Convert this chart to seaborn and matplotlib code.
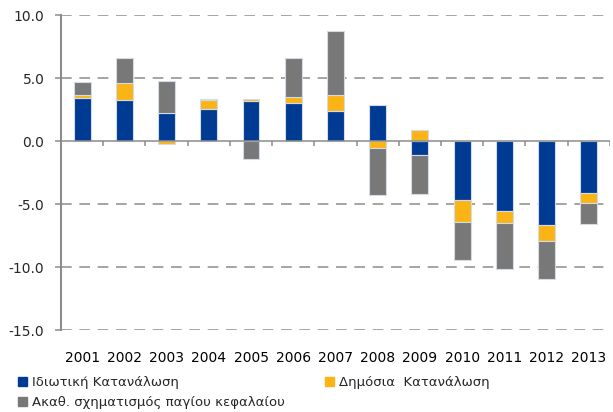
import numpy as np
import pandas as pd
import matplotlib
matplotlib.use('Agg')
import matplotlib.pyplot as plt
import seaborn as sns
from matplotlib.patches import Patch

years = ['2001', '2002', '2003', '2004', '2005', '2006', '2007',
         '2008', '2009', '2010', '2011', '2012', '2013']
private_cons = [3.43, 3.24, 2.22, 2.59, 3.16, 3.00, 2.37, 2.88, -1.08, -4.69, -5.56, -6.69, -4.14]
public_cons = [0.20, 1.35, -0.24, 0.65, 0.20, 0.53, 1.27, -0.52, 0.87, -1.74, -0.95, -1.25, -0.76]
gfcf = [1.06, 2.00, 2.58, 0.14, -1.39, 3.05, 5.14, -3.75, -3.14, -3.01, -3.64, -3.00, -1.69]

labels = ['Ιδιωτική Κατανάλωση', 'Δημόσια  Κατανάλωση', 'Ακαθ. σχηματισμός παγίου κεφαλαίου']
colors = ['#003B93', '#FBB416', '#787878']
series = [private_cons, public_cons, gfcf]

sns.set_style('white')
plt.rcParams['font.family'] = ['DejaVu Sans']

fig = plt.figure(figsize=(6.13, 4.12), dpi=100)
ax = fig.add_axes([0.0995, 0.199, 0.8955, 0.764])

# stack positives and negatives separately (Excel style)
pos_base = np.zeros(len(years))
neg_base = np.zeros(len(years))
for vals, col in zip(series, colors):
    vals = np.array(vals)
    bottom = np.where(vals >= 0, pos_base, neg_base)
    df = pd.DataFrame({'year': years, 'value': vals})
    sns.barplot(data=df, x='year', y='value', order=years, color=col,
                width=0.4, bottom=bottom, edgecolor='#d5dbe4', linewidth=0.8,
                saturation=1, errorbar=None, ax=ax, zorder=3)
    pos_base = pos_base + np.where(vals >= 0, vals, 0)
    neg_base = neg_base + np.where(vals < 0, vals, 0)

ax.set_ylim(-15, 10)
ax.set_xlim(-0.5, len(years) - 0.5)
ax.set_yticks([-15, -10, -5, 0, 5, 10])
ax.set_yticklabels([f'{v:.1f}' for v in [-15, -10, -5, 0, 5, 10]])
ax.set_xlabel('')
ax.set_ylabel('')

for y in [-15, -10, -5, 5, 10]:
    ax.axhline(y, color='#8c8c8c', lw=1.1, ls=(0, (7, 5)), zorder=1)
ax.axhline(0, color='#8c8c8c', lw=1.1, zorder=4)
ax.vlines(np.arange(-0.5, len(years)), 0, -0.35, color='#8c8c8c', lw=1.1, zorder=4)

for s in ['top', 'right', 'bottom']:
    ax.spines[s].set_visible(False)
ax.spines['left'].set_color('#8c8c8c')
ax.spines['left'].set_linewidth(1.5)

ax.tick_params(axis='x', length=0, pad=15, labelsize=10, colors='black')
ax.tick_params(axis='y', length=4, width=1.1, color='#8c8c8c', pad=8, labelsize=10, left=True)

handles = [Patch(color=colors[0]), Patch(color=colors[2]), Patch(color=colors[1])]
leg_labels = [labels[0], labels[2], labels[1]]
ax.legend(handles, leg_labels, loc='upper left', bbox_to_anchor=(-0.088, -0.13),
          ncol=2, frameon=False, fontsize=9.5, handlelength=0.7, handleheight=0.7,
          handletextpad=0.4, columnspacing=3.0, labelspacing=0.5, borderaxespad=0)

fig.savefig('out.png', dpi=100)
